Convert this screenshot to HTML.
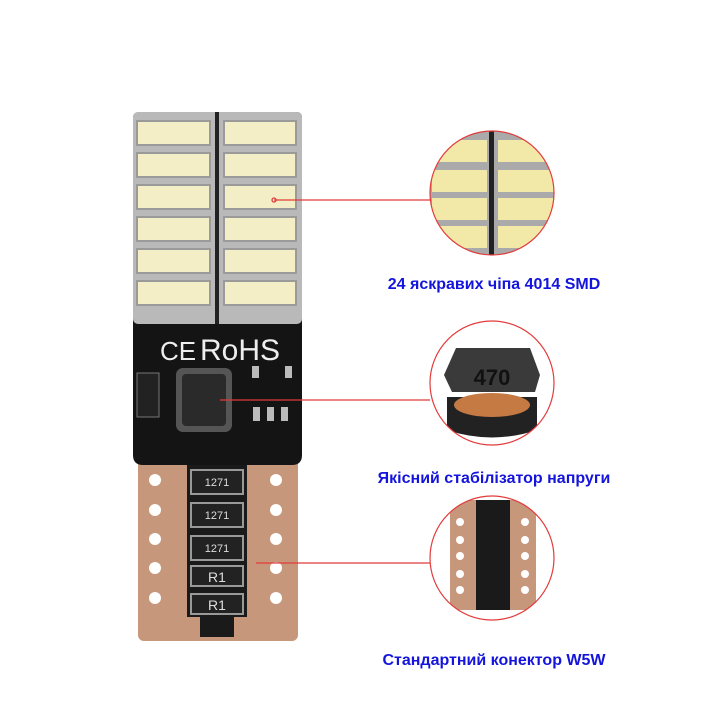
<!DOCTYPE html>
<html><head><meta charset="utf-8"><style>
html,body{margin:0;padding:0;background:#fff;width:720px;height:720px;overflow:hidden}
text{font-family:"Liberation Sans","DejaVu Sans",sans-serif}
</style></head><body>
<svg width="720" height="720" viewBox="0 0 720 720" xmlns="http://www.w3.org/2000/svg">
<defs>
<clipPath id="c1"><circle cx="492" cy="193" r="62"/></clipPath>
<clipPath id="c2"><circle cx="492" cy="383" r="62"/></clipPath>
<clipPath id="c3"><circle cx="492" cy="558" r="62"/></clipPath>
</defs>
<rect x="138" y="455" width="160" height="186" rx="6" fill="#c6977a"/>
<rect x="187" y="462" width="60" height="155" fill="#1a1a1a"/>
<rect x="200" y="617" width="34" height="20" fill="#1a1a1a"/>
<path d="M133 118 Q133 112 140 112 L296 112 Q302 112 302 118 L302 455 Q302 465 292 465 L143 465 Q133 465 133 455 Z" fill="#141414"/>
<rect x="133" y="112" width="169" height="212" fill="#b9b9b9" rx="5"/>
<rect x="215" y="112" width="4" height="212" fill="#222"/>
<g fill="#f3eec6" stroke="#9a9a9a" stroke-width="2">
<rect x="137" y="121" width="73" height="24"/><rect x="224" y="121" width="72" height="24"/>
<rect x="137" y="153" width="73" height="24"/><rect x="224" y="153" width="72" height="24"/>
<rect x="137" y="185" width="73" height="24"/><rect x="224" y="185" width="72" height="24"/>
<rect x="137" y="217" width="73" height="24"/><rect x="224" y="217" width="72" height="24"/>
<rect x="137" y="249" width="73" height="24"/><rect x="224" y="249" width="72" height="24"/>
<rect x="137" y="281" width="73" height="24"/><rect x="224" y="281" width="72" height="24"/>
</g>
<text x="160" y="360" font-size="26" fill="#eee">CE</text>
<text x="200" y="360" font-size="30" fill="#eee">RoHS</text>
<rect x="176" y="368" width="56" height="64" rx="7" fill="#555"/>
<rect x="182" y="374" width="44" height="52" rx="4" fill="#2a2a2a"/>
<rect x="137" y="373" width="22" height="44" fill="#222" stroke="#777"/>
<g fill="#bbb"><rect x="252" y="366" width="7" height="12"/><rect x="285" y="366" width="7" height="12"/><rect x="253" y="407" width="7" height="14"/><rect x="267" y="407" width="7" height="14"/><rect x="281" y="407" width="7" height="14"/></g>
<g fill="#222" stroke="#999" stroke-width="2">
<rect x="191" y="470" width="52" height="24"/><rect x="191" y="503" width="52" height="24"/><rect x="191" y="536" width="52" height="24"/><rect x="191" y="566" width="52" height="20"/><rect x="191" y="594" width="52" height="20"/>
</g>
<g font-size="11" fill="#ddd" text-anchor="middle"><text x="217" y="486">1271</text><text x="217" y="519">1271</text><text x="217" y="552">1271</text><text x="217" y="582" font-size="14">R1</text><text x="217" y="610" font-size="14">R1</text></g>
<g fill="#fff"><circle cx="155" cy="480" r="6"/><circle cx="155" cy="510" r="6"/><circle cx="155" cy="539" r="6"/><circle cx="155" cy="568" r="6"/><circle cx="155" cy="598" r="6"/>
<circle cx="276" cy="480" r="6"/><circle cx="276" cy="510" r="6"/><circle cx="276" cy="539" r="6"/><circle cx="276" cy="568" r="6"/><circle cx="276" cy="598" r="6"/></g>
<g stroke="#e23b3b" stroke-width="1.3" fill="none">
<line x1="274" y1="200" x2="430" y2="200"/><circle cx="274" cy="200" r="2"/>
<line x1="220" y1="400" x2="430" y2="400"/>
<line x1="256" y1="563" x2="430" y2="563"/>
</g>
<g clip-path="url(#c1)">
<rect x="420" y="120" width="150" height="150" fill="#aaa"/>
<rect x="489" y="120" width="5" height="150" fill="#222"/>
<g fill="#f2e9a8"><rect x="432" y="140" width="55" height="22"/><rect x="498" y="140" width="60" height="22"/><rect x="432" y="170" width="55" height="22"/><rect x="498" y="170" width="60" height="22"/><rect x="432" y="198" width="55" height="22"/><rect x="498" y="198" width="60" height="22"/><rect x="432" y="226" width="55" height="22"/><rect x="498" y="226" width="60" height="22"/></g>
</g>
<circle cx="492" cy="193" r="62" fill="none" stroke="#e23b3b" stroke-width="1.2"/>
<g clip-path="url(#c2)"><rect x="420" y="320" width="150" height="130" fill="#fff"/>
<path d="M447 397 L537 397 L537 430 Q492 445 447 430 Z" fill="#222"/>
<ellipse cx="492" cy="405" rx="38" ry="12" fill="#c57a43"/>
<path d="M444 375 L456 348 L530 348 L540 375 L535 392 L452 392 Z" fill="#3a3a3a"/>
<text x="492" y="385" font-size="22" font-weight="bold" fill="#111" text-anchor="middle">470</text></g>
<circle cx="492" cy="383" r="62" fill="none" stroke="#e23b3b" stroke-width="1.2"/>
<g clip-path="url(#c3)"><rect x="420" y="490" width="150" height="140" fill="#fff"/>
<rect x="450" y="500" width="86" height="110" rx="4" fill="#c6977a"/>
<rect x="476" y="500" width="34" height="110" fill="#1a1a1a"/>
<g fill="#fff"><circle cx="460" cy="522" r="4"/><circle cx="460" cy="540" r="4"/><circle cx="460" cy="556" r="4"/><circle cx="460" cy="574" r="4"/><circle cx="460" cy="590" r="4"/><circle cx="525" cy="522" r="4"/><circle cx="525" cy="540" r="4"/><circle cx="525" cy="556" r="4"/><circle cx="525" cy="574" r="4"/><circle cx="525" cy="590" r="4"/></g></g>
<circle cx="492" cy="558" r="62" fill="none" stroke="#e23b3b" stroke-width="1.2"/>
<g font-size="16" font-weight="bold" fill="#1414dc" text-anchor="middle">
<text x="494" y="289">24 яскравих чіпа 4014 SMD</text>
<text x="494" y="483">Якісний стабілізатор напруги</text>
<text x="494" y="665">Стандартний конектор W5W</text>
</g>
</svg>
</body></html>
